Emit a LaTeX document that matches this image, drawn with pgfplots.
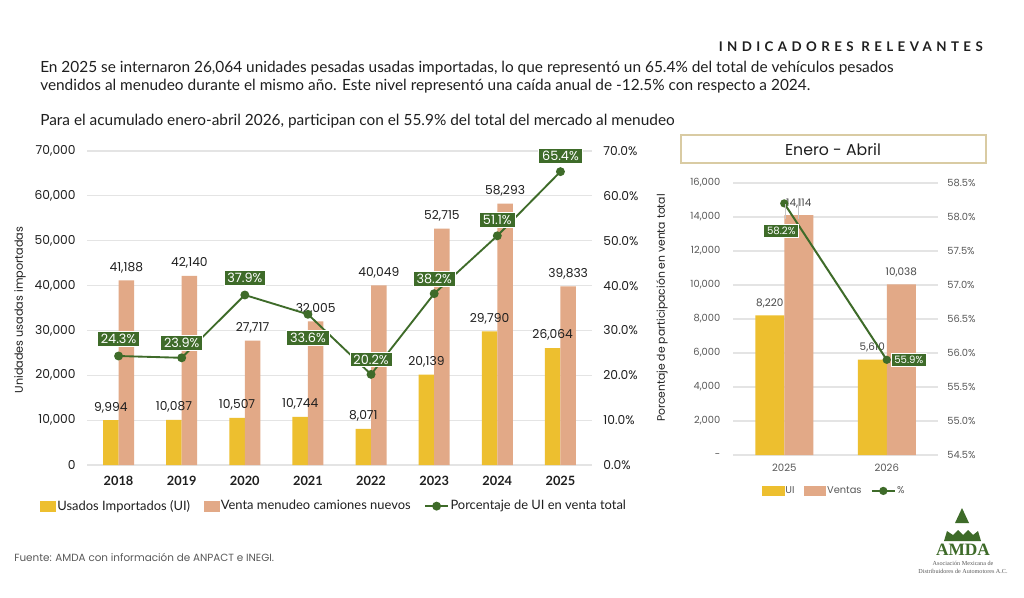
\documentclass[border=0pt]{standalone}
\usepackage{pgfplots}
\pgfplotsset{compat=1.18}
\usepackage{pgfplotstable}
\usepackage{fontspec}
\setmainfont{Lato}
\newfontfamily\geo{Poppins}
\newfontfamily\serifo{Liberation Serif}

\definecolor{ui}{HTML}{EDBF2F}
\definecolor{vta}{HTML}{E2A987}
\definecolor{verde}{HTML}{3E6B29}
\definecolor{rejilla}{HTML}{E4E4E4}
\definecolor{txt}{HTML}{1F1F1F}
\definecolor{gris}{HTML}{595959}
\definecolor{marco}{HTML}{D9CBA3}

\pgfplotsset{/pgf/number format/assume math mode=true}

% Serie anual
\pgfplotstableread{
x ui vta
0 9994 41188
1 10087 42140
2 10507 27717
3 10744 32005
4 8071 40049
5 20139 52715
6 29790 58293
7 26064 39833
}\anual

% Participacion anual (%), desplazamiento vertical de la etiqueta en px
\pgfplotstableread{
x p dy
0 24.3 17
1 23.9 15
2 37.9 17
3 33.6 -24
4 20.2 15
5 38.2 15
6 51.1 16
7 65.4 16
}\pctanual

% Acumulado enero-abril
\pgfplotstableread{
x ui vta
0 8220 14114
1 5610 10038
}\acum

\pgfplotstableread{
x p dx dy
0 58.2 -3 -27
1 55.9 22 0
}\pctacum

\newcommand\fs[1]{\fontsize{#1}{#1}\selectfont}

\begin{document}
\begin{tikzpicture}
\useasboundingbox[fill=white] (0pt,0pt) rectangle (768pt,-447.75pt);

% ---------------- Grafica anual: barras ----------------
\begin{axis}[
  at={(65.25pt,-348.75pt)}, anchor=south west,
  scale only axis, width=378.75pt, height=235.5pt,
  xmin=-0.5, xmax=7.5, ymin=0, ymax=70000,
  xtick={0,1,2,3,4,5,6,7},
  xticklabels={2018,2019,2020,2021,2022,2023,2024,2025},
  ytick={0,10000,20000,30000,40000,50000,60000,70000},
  scaled y ticks=false,
  axis line style={draw=none}, major tick length=0pt,
  ymajorgrids, grid style={rejilla, line width=0.9pt},
  /pgf/number format/1000 sep={,},
  yticklabel style={font=\geo\fs{9.2pt}, text=txt, xshift=-5pt},
  xticklabel style={font=\bfseries\fs{9.6pt}, text=txt, yshift=-5pt},
  ybar, bar width=11.6pt,
  nodes near coords,
  nodes near coords style={font=\geo\fs{9.2pt}, text=txt, anchor=south, yshift=2pt,
     /pgf/number format/fixed, /pgf/number format/precision=0},
  clip=false,
]
\addplot[fill=ui, draw=none, bar shift=-5.8pt] table[x=x,y=ui]{\anual};
\addplot[fill=vta, draw=none, bar shift=5.8pt] table[x=x,y=vta]{\anual};
\end{axis}

% ---------------- Grafica anual: porcentaje ----------------
\begin{axis}[
  at={(65.25pt,-348.75pt)}, anchor=south west,
  scale only axis, width=378.75pt, height=235.5pt,
  xmin=-0.5, xmax=7.5, ymin=0, ymax=70,
  hide x axis, axis y line*=right,
  axis line style={draw=none}, major tick length=0pt,
  ytick={0,10,20,30,40,50,60,70},
  yticklabel={\pgfmathprintnumber[fixed,fixed zerofill,precision=1]{\tick}\%},
  yticklabel style={font=\geo\fs{9.2pt}, text=txt, xshift=5pt},
  clip=false,
  legend columns=3,
  legend style={at={(-0.093,-0.131)}, anchor=west, draw=none, fill=none,
     font=\fs{9.7pt}, text=txt, inner sep=0pt,
     nodes={inner sep=1.2pt},
     /tikz/every even column/.append style={column sep=9pt}},
]
\addlegendimage{legend image code/.code={\fill[ui] (0pt,-3.6pt) rectangle (11.2pt,3.6pt);}}
\addlegendentry{Usados Importados (UI)}
\addlegendimage{legend image code/.code={\fill[vta] (0pt,-3.6pt) rectangle (11.2pt,3.6pt);}}
\addlegendentry{Venta menudeo camiones nuevos}
\addplot[color=verde, line width=1.4pt, mark=*, mark size=2.6pt,
  point meta=y,
  visualization depends on={\thisrow{dy} \as \dy},
  nodes near coords={\pgfmathprintnumber[fixed,fixed zerofill,precision=1]{\pgfplotspointmeta}\%},
  nodes near coords style={anchor=center, yshift=\dy*0.75pt, fill=verde, draw=white,
     line width=0.6pt, text=white, font=\geo\fs{9.6pt}, inner xsep=2.5pt, inner ysep=2pt}]
  table[x=x,y=p]{\pctanual};
\addlegendentry{Porcentaje de UI en venta total}
\end{axis}

% ---------------- Enero - Abril: barras ----------------
\begin{axis}[
  at={(549.75pt,-341.25pt)}, anchor=south west,
  scale only axis, width=153.75pt, height=204pt,
  xmin=-0.5, xmax=1.5, ymin=0, ymax=16000,
  xtick={0,1}, xticklabels={2025,2026},
  ytick={0,2000,4000,6000,8000,10000,12000,14000,16000},
  yticklabels={-,{2,000},{4,000},{6,000},{8,000},{10,000},{12,000},{14,000},{16,000}},
  scaled y ticks=false,
  axis line style={draw=none}, major tick length=0pt,
  ymajorgrids, grid style={rejilla, line width=0.9pt},
  /pgf/number format/1000 sep={,},
  yticklabel style={font=\geo\fs{7.4pt}, text=gris, xshift=-6pt},
  xticklabel style={font=\geo\fs{7.6pt}, text=gris, yshift=-3.5pt},
  ybar, bar width=21.75pt,
  nodes near coords,
  nodes near coords style={font=\geo\fs{7.8pt}, text=gris!80!black, anchor=south, yshift=2pt,
     /pgf/number format/fixed, /pgf/number format/precision=0},
  clip=false,
]
\addplot[fill=ui, draw=none, bar shift=-10.875pt] table[x=x,y=ui]{\acum};
\addplot[fill=vta, draw=none, bar shift=10.875pt] table[x=x,y=vta]{\acum};
\end{axis}

% ---------------- Enero - Abril: porcentaje ----------------
\begin{axis}[
  at={(549.75pt,-341.25pt)}, anchor=south west,
  scale only axis, width=153.75pt, height=204pt,
  xmin=-0.5, xmax=1.5, ymin=54.5, ymax=58.5,
  hide x axis, axis y line*=right,
  axis line style={draw=none}, major tick length=0pt,
  ytick={54.5,55,55.5,56,56.5,57,57.5,58,58.5},
  yticklabel={\pgfmathprintnumber[fixed,fixed zerofill,precision=1]{\tick}\%},
  yticklabel style={font=\geo\fs{7.4pt}, text=gris, xshift=3.5pt},
  clip=false,
  legend columns=3,
  legend style={at={(0.493,-0.132)}, anchor=center, draw=none, fill=none,
     font=\geo\fs{7.4pt}, text=gris, inner sep=0pt,
     nodes={inner sep=1pt},
     /tikz/every even column/.append style={column sep=6pt}},
]
\addlegendimage{legend image code/.code={\fill[ui] (0pt,-3.3pt) rectangle (16pt,3.3pt);}}
\addlegendentry{UI}
\addlegendimage{legend image code/.code={\fill[vta] (0pt,-3.3pt) rectangle (16pt,3.3pt);}}
\addlegendentry{Ventas}
\addplot[color=verde, line width=1.5pt, mark=*, mark size=2.3pt,
  point meta=y,
  visualization depends on={\thisrow{dx} \as \dx},
  visualization depends on={\thisrow{dy} \as \dy},
  nodes near coords={\pgfmathprintnumber[fixed,fixed zerofill,precision=1]{\pgfplotspointmeta}\%},
  nodes near coords style={anchor=center, xshift=\dx*0.75pt, yshift=\dy*0.75pt, fill=verde, draw=white,
     line width=0.5pt, text=white, font=\geo\fs{7.6pt}, inner xsep=2.5pt, inner ysep=2pt}]
  table[x=x,y=p]{\pctacum};
\addlegendentry{\%}
\end{axis}

% ---------------- Textos y marco (coordenadas en px) ----------------
\begin{scope}[x=0.75pt, y=-0.75pt]
  \node[anchor=base east, inner sep=0pt, font=\bfseries\fs{10pt}, text=txt]
    at (983,51) {\addfontfeature{LetterSpace=33}INDICADORES RELEVANTES};
  \node[anchor=base west, inner sep=0pt, font=\fs{11.55pt}, text=txt] at (40,72)
    {En 2025 se internaron 26,064 unidades pesadas usadas importadas, lo que representó un 65.4\% del total de vehículos pesados};
  \node[anchor=base west, inner sep=0pt, font=\fs{11.55pt}, text=txt] at (40,90)
    {vendidos al menudeo durante el mismo año. Este nivel representó una caída anual de -12.5\% con respecto a 2024.};
  \node[anchor=base west, inner sep=0pt, font=\fs{11.55pt}, text=txt] at (40,125)
    {Para el acumulado enero-abril 2026, participan con el 55.9\% del total del mercado al menudeo};

  \draw[marco, line width=0.9pt] (681,135) rectangle (986,163);
  \node[font=\geo\fs{11.8pt}, text=txt] at (833,150) {Enero - Abril};

  \node[rotate=90, font=\geo\fs{8.4pt}, text=txt] at (20,310) {Unidades usadas importadas};
  \node[rotate=90, font=\geo\fs{8.1pt}, text=txt] at (662,308) {Porcentaje de participación en venta total};

  \node[anchor=west, inner sep=0pt, font=\geo\fs{7.8pt}, text=gris] at (14,557)
    {Fuente: AMDA con información de ANPACT e INEGI.};

  % Guias de etiquetas
  \draw[gray!45, line width=0.5pt] (785,204) -- (785,219);
  \draw[gray!45, line width=0.5pt] (798,199) -- (798,219);

  % Logotipo
  \fill[verde] (962,508) -- (969,523) -- (955,523) -- cycle;
  \fill[verde] (944,541) -- (947,531) -- (953,535) -- (958,530) -- (963,535)
     -- (968,530) -- (973,535) -- (978,531) -- (981,541) -- cycle;
  \node[font=\serifo\bfseries\fs{13pt}, text=verde, inner sep=0pt] at (963,550) {AMDA};
  \node[font=\serifo\fs{4.6pt}, text=gris, inner sep=0pt] at (963,563) {Asociación Mexicana de};
  \node[font=\serifo\fs{4.6pt}, text=gris, inner sep=0pt] at (963,571) {Distribuidores de Automotores A.C.};
\end{scope}
\end{tikzpicture}
\end{document}
